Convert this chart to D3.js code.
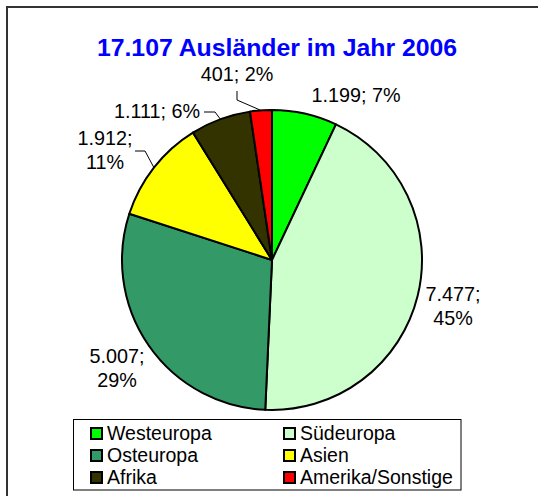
<!DOCTYPE html>
<html>
<head>
<meta charset="utf-8">
<script src="https://cdn.jsdelivr.net/npm/d3@7"></script>
<style>
  html, body { margin: 0; padding: 0; background: #fff; }
  svg { display: block; font-family: "Liberation Sans", Arial, sans-serif; }
</style>
</head>
<body>
<svg id="chart" width="538" height="496"></svg>
<script>
// ---- data ----
const titleText = "17.107 Ausländer im Jahr 2006";
const categories = ["Westeuropa", "Südeuropa", "Osteuropa", "Asien", "Afrika", "Amerika/Sonstige"];
const values = [1199, 7477, 5007, 1912, 1111, 401];
const percents = ["7%", "45%", "29%", "11%", "6%", "2%"];
const colors = ["#00FF00", "#CCFFCC", "#339966", "#FFFF00", "#333300", "#FF0000"];

// ---- layout (not data) ----
const W = 538, H = 496;
const cx = 272, cy = 260, R = 150;
const fmt = v => d3.format(",")(v).replace(/,/g, ".");
const labelLayout = [
  { x: 356, y: 102, two: false },
  { x: 453, y: 301, two: true },
  { x: 117, y: 363, two: true },
  { x: 105, y: 145, two: true, elbow: [[135, 151], [145, 151]] },
  { x: 157, y: 118, two: false, elbow: [[204, 112], [215, 112]] },
  { x: 237, y: 81, two: false, elbow: [[237, 91], [237, 100]] }
];

const svg = d3.select("#chart");

// outer frame (extends beyond the visible area)
svg.append("rect")
  .attr("x", 7).attr("y", 7)
  .attr("width", 700).attr("height", 700)
  .attr("fill", "none").attr("stroke", "#333").attr("stroke-width", 2);

// title
svg.append("text")
  .attr("x", 277).attr("y", 56)
  .attr("text-anchor", "middle")
  .attr("font-size", 24.8).attr("font-weight", "bold")
  .attr("fill", "#0000FF")
  .text(titleText);

// pie
const pie = d3.pie().sort(null).value(d => d)
  .startAngle(0).endAngle(2 * Math.PI);
const arcs = pie(values);
const arc = d3.arc().innerRadius(0).outerRadius(R);
const edgeArc = d3.arc().innerRadius(R).outerRadius(R);

const g = svg.append("g").attr("transform", `translate(${cx},${cy})`);
g.selectAll("path.slice")
  .data(arcs)
  .join("path")
  .attr("class", "slice")
  .attr("d", arc)
  .attr("fill", (d, i) => colors[i])
  .attr("stroke", "#000")
  .attr("stroke-width", 2)
  .attr("stroke-linejoin", "round");

// leader lines
arcs.forEach((d, i) => {
  const L = labelLayout[i];
  if (!L.elbow) return;
  const c = edgeArc.centroid(d);
  const pts = L.elbow.concat([[cx + c[0], cy + c[1]]]);
  svg.append("path")
    .attr("d", d3.line()(pts))
    .attr("fill", "none")
    .attr("stroke", "#000")
    .attr("stroke-width", 1);
});

// labels
arcs.forEach((d, i) => {
  const L = labelLayout[i];
  const t = svg.append("text")
    .attr("text-anchor", "middle")
    .attr("font-size", 19.8)
    .attr("fill", "#000");
  const a = fmt(values[i]) + ";";
  if (L.two) {
    t.append("tspan").attr("x", L.x).attr("y", L.y).text(a);
    t.append("tspan").attr("x", L.x).attr("y", L.y + 24).text(percents[i]);
  } else {
    t.attr("x", L.x).attr("y", L.y).text(a + " " + percents[i]);
  }
});

// legend
const legend = svg.append("g");
legend.append("rect")
  .attr("x", 73.5).attr("y", 419.5)
  .attr("width", 387.5).attr("height", 70.5)
  .attr("fill", "#fff").attr("stroke", "#000").attr("stroke-width", 1);

const colX = [90, 283];
const rowY = [427, 449, 471];
categories.forEach((c, i) => {
  const col = i % 2, row = Math.floor(i / 2);
  legend.append("rect")
    .attr("x", colX[col] + 1).attr("y", rowY[row] + 1)
    .attr("width", 11).attr("height", 11)
    .attr("fill", colors[i]).attr("stroke", "#000").attr("stroke-width", 2);
  legend.append("text")
    .attr("x", colX[col] + 17).attr("y", rowY[row] + 12.5)
    .attr("font-size", 19.5)
    .attr("fill", "#000")
    .text(c);
});
</script>
</body>
</html>
